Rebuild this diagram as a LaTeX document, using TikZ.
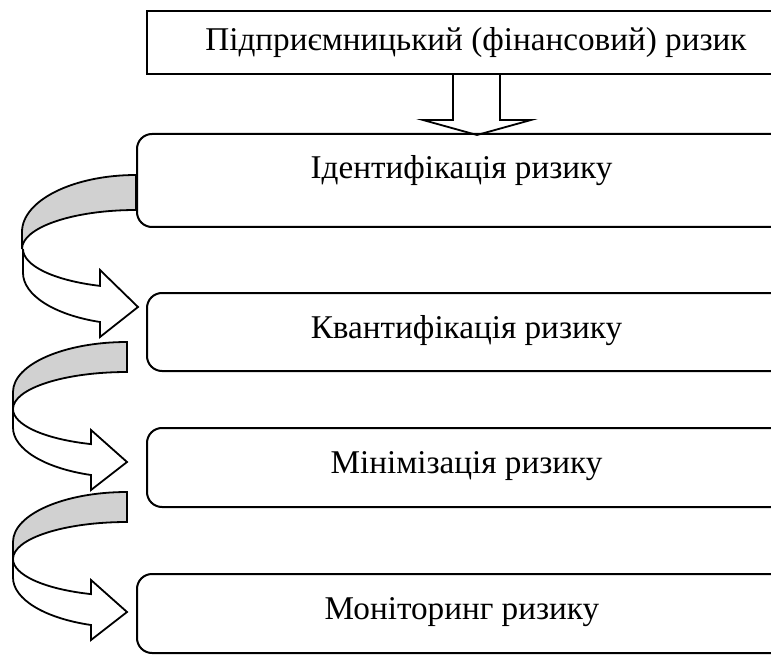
\documentclass[tikz,border=0pt]{standalone}
\usepackage{fontspec}
\setmainfont{Liberation Serif}

\begin{document}
\begin{tikzpicture}
    [
      x=1pt, y=1pt,
      % Styles
      box/.style={draw, line width=2pt, inner sep=0pt, anchor=north,
        font=\fontsize{33.2}{40}\selectfont},
      stage/.style={box, rounded corners=15pt, text height=45pt},
      hollow/.style={draw, line width=1.8pt},
      arrow back/.style={hollow, fill=bandcolor},
      arrow front/.style={hollow, fill=white}
    ]

    % Colors
    \colorlet{bandcolor}{black!18}

    \useasboundingbox (0,0) rectangle (771,-655);
    \clip (0,0) rectangle (771,-655);

    % boxes (they run on past the right border)
    \node [box, minimum width=658pt, text height=40pt, text depth=23pt] (risk) at (476,-10) {Підприємницький (фінансовий) ризик};
    \node [stage, minimum width=649pt, text depth=48pt] (ident) at (461.5,-133) {Ідентифікація ризику};
    \node [stage, minimum width=639pt, text depth=33pt] (quant) at (466.5,-292) {Квантифікація ризику};
    \node [stage, minimum width=639pt, text depth=34pt] (minim) at (466.5,-427) {Мінімізація ризику};
    \node [stage, minimum width=650pt, text depth=34pt] (monit) at (462,-573) {Моніторинг ризику};

    % hollow arrow under the heading
    \draw [hollow] ([xshift=-23pt]risk.south) -- ++(0,-45) -- ++(-30,0) -- ++(54,-15) -- ++(54,15) -- ++(-31,0) -- ++(0,45);

    % first curved arrow, from the left side of ident
    \path [arrow back] (ident.west |- 0,-175) arc [start angle=90, end angle=180, x radius=114, y radius=57] -- ++(0,-17) arc [start angle=180, end angle=90, x radius=114, y radius=39] -- cycle;
    \path [arrow front] (23,-249) arc [start angle=180, end angle=251.06, x radius=114, y radius=39] -- (100,-270) -- (138,-307) -- (100,-337) -- (100,-322) arc [start angle=251.06, end angle=180, x radius=114, y radius=52] -- cycle;

    % the two lower curved arrows
    \foreach \top in {342,492}
    {
      \begin{scope}[shift={(0,-\top)}]
        \path [arrow back] (127,0) arc [start angle=90, end angle=180, x radius=114, y radius=50] -- ++(0,-17) arc [start angle=180, end angle=90, x radius=114, y radius=37] -- cycle;
        \path [arrow front] (13,-67) arc [start angle=180, end angle=251.59, x radius=114, y radius=37] -- (91,-88) -- (127,-120) -- (91,-148) -- (91,-133) arc [start angle=251.59, end angle=180, x radius=114, y radius=50] -- cycle;
      \end{scope}
    }
\end{tikzpicture}
\end{document}
